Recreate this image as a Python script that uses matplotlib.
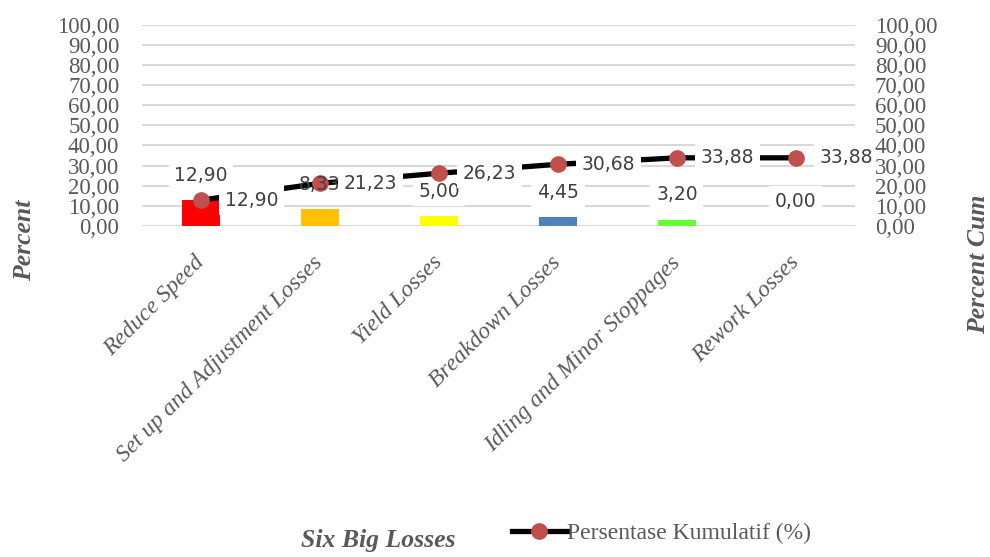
import numpy as np
import matplotlib.pyplot as plt

categories = ['Reduce Speed', 'Set up and Adjustment Losses', 'Yield Losses',
              'Breakdown Losses', 'Idling and Minor Stoppages', 'Rework Losses']
percent = [12.90, 8.33, 5.00, 4.45, 3.20, 0.00]
percent_cum = [12.90, 21.23, 26.23, 30.68, 33.88, 33.88]
bar_colors = ['#FF0000', '#FFC000', '#FFFF00', '#4F81BD', '#66FF33', '#A5A5A5']
yticks = np.arange(0, 101, 10)


def fmt(v):
    return f'{v:.2f}'.replace('.', ',')


fig = plt.figure(figsize=(9.9, 5.57), dpi=100)
ax = fig.add_axes([0.143, 0.594, 0.721, 0.362])
x = np.arange(len(categories))

grey = '#595959'
ax.set_ylim(0, 100)
ax.set_xlim(-0.5, len(categories) - 0.5)
ax.set_yticks(yticks)
ax.set_yticklabels([fmt(v) for v in yticks], family='Liberation Serif',
                   fontsize=16.5, color=grey)
ax.yaxis.grid(True, color='#D9D9D9', linewidth=1.5, zorder=0)
ax.set_axisbelow(True)
for s in ax.spines.values():
    s.set_visible(False)
ax.tick_params(axis='y', length=0, pad=16)
ax.tick_params(axis='x', length=0, pad=24)

ax.bar(x, percent, width=0.32, color=bar_colors, zorder=2)

line, = ax.plot(x, percent_cum, color='black', linewidth=3.8, marker='o',
                markersize=11, markerfacecolor='#C0504D', markeredgecolor='#C0504D',
                zorder=3, label='Persentase Kumulatif (%)')

lbl_font = dict(family='DejaVu Sans', fontsize=13.5)
box = dict(boxstyle='square,pad=0.3', facecolor='white', edgecolor='none')
# bar labels: white box under the line markers, text on top
for xi, v in zip(x, percent):
    ax.annotate(fmt(v), (xi, v), xytext=(0, 18), textcoords='offset points',
                ha='center', va='center', zorder=2.5, bbox=box,
                color='none', **lbl_font)
    ax.annotate(fmt(v), (xi, v), xytext=(0, 18), textcoords='offset points',
                ha='center', va='center', zorder=4, color='#404040', **lbl_font)
for xi, v in zip(x, percent_cum):
    ax.annotate(fmt(v), (xi, v), xytext=(17, 0), textcoords='offset points',
                ha='left', va='center', zorder=5, bbox=box,
                color='#404040', **lbl_font)

ax.set_xticks(x)
ax.set_xticklabels(categories, rotation=45, ha='right', va='center',
                   rotation_mode='anchor', family='Liberation Serif',
                   style='italic', fontsize=17, color=grey)

ax2 = ax.twinx()
ax2.set_ylim(0, 100)
ax2.set_yticks(yticks)
ax2.set_yticklabels([fmt(v) for v in yticks], family='Liberation Serif',
                    fontsize=16.5, color=grey)
for s in ax2.spines.values():
    s.set_visible(False)
ax2.tick_params(length=0, pad=14)

lab_font = dict(family='Liberation Serif', style='italic', weight='bold',
                fontsize=18.5, color=grey)
fig.text(0.025, 0.569, 'Percent', rotation=90, ha='center', va='center', **lab_font)
fig.text(0.988, 0.526, 'Percent Cum', rotation=90, ha='center', va='center', **lab_font)
fig.text(0.382, 0.03, 'Six Big Losses', ha='center', va='center', **lab_font)

fig.legend(handles=[line], loc='center', bbox_to_anchor=(0.668, 0.043),
           frameon=False, handlelength=2.35, handletextpad=0.0,
           prop=dict(family='Liberation Serif', size=17), labelcolor=grey)

fig.savefig('out.png', dpi=100)
